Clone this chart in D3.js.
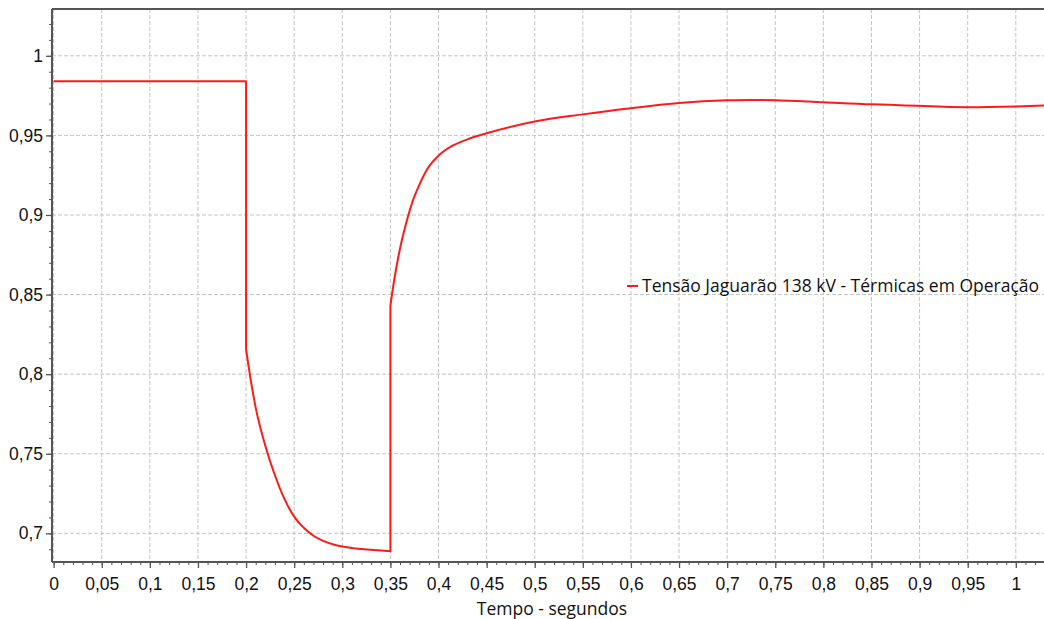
<!DOCTYPE html>
<html>
<head>
<meta charset="utf-8">
<script src="https://cdn.jsdelivr.net/npm/d3@7"></script>
<style>
  html, body { margin: 0; padding: 0; background: #fff; }
  svg { display: block; font-family: "Segoe UI", "Open Sans", "Noto Sans", sans-serif; }
  .grid line { stroke: #c4c4c4; stroke-width: 1; stroke-dasharray: 4 2; }
  .tick-label { font-size: 17.5px; fill: #111; }
</style>
</head>
<body>
<div id="chart"></div>
<script>
// Data
const seriesName = 'Tensão Jaguarão 138 kV - Térmicas em Operação';
const xTitle = 'Tempo - segundos';

// three pieces of the curve, joined by the vertical steps at 0.2 s and 0.35 s
const timePre = [0, 0.2];
const voltagePre = [0.984, 0.984];
const timeFault = [0.2, 0.205, 0.21, 0.22, 0.23, 0.24, 0.25, 0.26, 0.27, 0.28, 0.29, 0.30, 0.32, 0.35];
const voltageFault = [0.8156, 0.7958, 0.779, 0.755, 0.7365, 0.7215, 0.7105, 0.7035, 0.6985, 0.6953, 0.6932, 0.6917, 0.6901, 0.6888];
const timePost = [0.35, 0.354, 0.359, 0.3677, 0.3729, 0.38, 0.3885, 0.40, 0.4145, 0.43, 0.45, 0.5, 0.55, 0.6,
  0.65, 0.7, 0.725, 0.75, 0.8, 0.85, 0.88, 0.95, 1.0, 1.03];
const voltagePost = [0.843, 0.8593, 0.876, 0.8978, 0.9082, 0.9188, 0.929, 0.9372, 0.9435, 0.9475, 0.9513, 0.9587, 0.9632, 0.967,
  0.9703, 0.972, 0.9723, 0.9721, 0.9708, 0.9695, 0.969, 0.9677, 0.9682, 0.9688];

const xTicks = d3.range(0, 21).map(i => i * 0.05);
const yTicks = d3.range(0, 7).map(i => 0.7 + i * 0.05);
const xMinor = d3.range(0, 104).map(i => i * 0.01);
const yMinor = d3.range(69, 103).map(i => i * 0.01);

// Dimensions
const width = 1044, height = 619;
const margin = {left: 52, top: 9, right: 0, bottom: 57};
const boundedWidth = width - margin.left - margin.right;
const boundedHeight = height - margin.top - margin.bottom;

const svg = d3.select('#chart')
  .append('svg')
    .attr('width', width)
    .attr('height', height);

const g = svg.append('g')
  .attr('transform', `translate(${margin.left},${margin.top})`);

// Scales
const xScale = d3.scaleLinear()
  .domain([-0.0017, 1.0293])
  .range([0, boundedWidth]);
const yScale = d3.scaleLinear()
  .domain([0.6820, 1.0294])
  .range([boundedHeight, 0]);

const fmt = v => d3.format('~g')(+v.toFixed(2)).replace('.', ',');

// Grid
const grid = g.append('g').attr('class', 'grid');
grid.selectAll('.vx')
  .data(xTicks)
  .join('line')
    .attr('x1', d => xScale(d)).attr('x2', d => xScale(d))
    .attr('y1', 0).attr('y2', boundedHeight);
grid.selectAll('.hy')
  .data(yTicks)
  .join('line')
    .attr('x1', 0).attr('x2', boundedWidth)
    .attr('y1', d => yScale(d)).attr('y2', d => yScale(d));

// Series line: smooth pieces, joined into one path so the steps are vertical
const line = d3.line()
  .x(d => xScale(d[0]))
  .y(d => yScale(d[1]))
  .curve(d3.curveMonotoneX);
const pieces = [
  d3.zip(timePre, voltagePre),
  d3.zip(timeFault, voltageFault),
  d3.zip(timePost, voltagePost)
];
const pathD = pieces
  .map((p, i) => i === 0 ? line(p) : 'L' + line(p).slice(1))
  .join('');
g.append('path')
  .attr('fill', 'none')
  .attr('stroke', '#ff1a1a')
  .attr('stroke-width', 2)
  .attr('stroke-linejoin', 'round')
  .attr('d', pathD);

// X axis
const xAxis = g.append('g')
  .attr('transform', `translate(0,${boundedHeight})`);
xAxis.call(d3.axisBottom(xScale).tickValues(xMinor.filter(d => xScale(d) < boundedWidth)).tickSize(3).tickFormat(''))
  .call(a => a.select('.domain').remove())
  .selectAll('line').attr('stroke', '#555');
const xMajor = g.append('g')
  .attr('transform', `translate(0,${boundedHeight})`)
  .call(d3.axisBottom(xScale).tickValues(xTicks).tickSize(6).tickPadding(10).tickFormat(fmt));
xMajor.select('.domain').remove();
xMajor.selectAll('line').attr('stroke', '#555').attr('stroke-width', 1.3);
xMajor.selectAll('text')
  .attr('class', 'tick-label')
  .attr('font-family', null)
  .attr('font-size', null);

// Y axis
const yAxis = g.append('g');
yAxis.call(d3.axisLeft(yScale).tickValues(yMinor.filter(d => yScale(d) > 0 && yScale(d) < boundedHeight)).tickSize(3).tickFormat(''))
  .call(a => a.select('.domain').remove())
  .selectAll('line').attr('stroke', '#555');
const yMajor = g.append('g')
  .call(d3.axisLeft(yScale).tickValues(yTicks).tickSize(6).tickPadding(3).tickFormat(fmt));
yMajor.select('.domain').remove();
yMajor.selectAll('line').attr('stroke', '#555').attr('stroke-width', 1.3);
yMajor.selectAll('text')
  .attr('class', 'tick-label')
  .attr('font-family', null)
  .attr('font-size', null);

// Frame lines: left, bottom and top
g.append('line')
  .attr('x1', 0).attr('x2', 0).attr('y1', 0).attr('y2', boundedHeight)
  .attr('stroke', '#555').attr('stroke-width', 2);
g.append('line')
  .attr('x1', 0).attr('x2', boundedWidth).attr('y1', boundedHeight).attr('y2', boundedHeight)
  .attr('stroke', '#555').attr('stroke-width', 2);
g.append('line')
  .attr('x1', 0).attr('x2', boundedWidth).attr('y1', 0).attr('y2', 0)
  .attr('stroke', '#555').attr('stroke-width', 2);

// Axis title
svg.append('text')
  .attr('x', margin.left + boundedWidth / 2 + 4)
  .attr('y', 615)
  .attr('text-anchor', 'middle')
  .attr('class', 'tick-label')
  .text(xTitle);

// Legend
const legend = svg.append('g').attr('transform', 'translate(627,286)');
legend.append('line')
  .attr('x1', 0).attr('x2', 11).attr('y1', 0).attr('y2', 0)
  .attr('stroke', '#ff1a1a').attr('stroke-width', 2);
legend.append('text')
  .attr('x', 15)
  .attr('y', 0)
  .attr('dy', '0.35em')
  .attr('class', 'tick-label')
  .text(seriesName);
</script>
</body>
</html>
